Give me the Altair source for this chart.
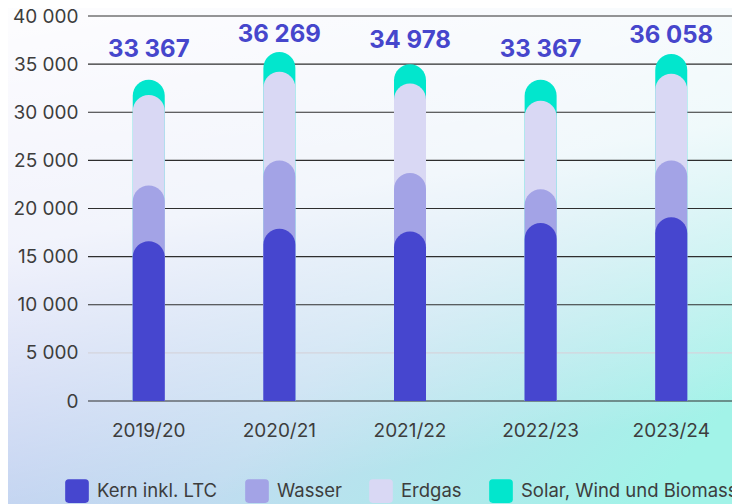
import altair as alt
import pandas as pd

periods = ["2019/20", "2020/21", "2021/22", "2022/23", "2023/24"]
series = ["Kern inkl. LTC", "Wasser", "Erdgas", "Solar, Wind und Biomasse"]
kern = [16600, 17900, 17600, 18500, 19100]
wasser = [5800, 7100, 6100, 3500, 5900]
erdgas = [9400, 9200, 9300, 9200, 9000]
totals = [33367, 36269, 34978, 33367, 36058]
solar = [t - k - w - e for t, k, w, e in zip(totals, kern, wasser, erdgas)]
colors = ["#4646cf", "#a3a3e6", "#d9d8f4", "#02e6cd"]
y_ticks = [0, 5000, 10000, 15000, 20000, 25000, 30000, 35000, 40000]

FONT = "Inter"
W, H = 644, 385

rows = []
cum = {}
for i, p in enumerate(periods):
    c1 = kern[i]
    c2 = c1 + wasser[i]
    c3 = c2 + erdgas[i]
    c4 = c3 + solar[i]
    cum[p] = [c1, c2, c3, c4]
for s_idx in [3, 2, 1, 0]:
    for p in periods:
        rows.append({"period": p, "series": series[s_idx], "top": cum[p][s_idx], "order": 3 - s_idx})
bars_df = pd.DataFrame(rows)

labels_df = pd.DataFrame({
    "period": periods,
    "total": totals,
    "label": [f"{t:,}".replace(",", " ") for t in totals],
})
grid_df = pd.DataFrame({"v": y_ticks})

x_scale = alt.Scale(domain=periods, paddingInner=0.75, paddingOuter=0.34)
y_scale = alt.Scale(domain=[0, 40000])
label_scale = alt.Scale(domain=[-36933, 40067])

y_axis = alt.Axis(title=None, orient="left", values=y_ticks, ticks=False, domain=False, grid=False,
                  labelPadding=10, labelFontSize=19, labelColor="#3d3d3d", labelFont=FONT,
                  labelExpr="replace(format(datum.value, ','), ',', ' ')", zindex=1)

bg_grad = alt.Gradient(
    gradient="linear",
    stops=[alt.GradientStop(color="#bebff0", offset=0),
           alt.GradientStop(color="#c0dcf0", offset=0.55),
           alt.GradientStop(color="#a2f3e8", offset=1)],
    x1=0, x2=1, y1=0.2, y2=0.8,
)
white_grad = alt.Gradient(
    gradient="linear",
    stops=[alt.GradientStop(color="rgba(255,255,255,0.97)", offset=0),
           alt.GradientStop(color="rgba(255,255,255,0.8)", offset=0.45),
           alt.GradientStop(color="rgba(255,255,255,0.0)", offset=1)],
    x1=0, x2=0.25, y1=0, y2=1,
)

one = pd.DataFrame({"a": [0]})
bg = alt.Chart(one).mark_rect(fill=bg_grad).encode(
    x=alt.value(-80), x2=alt.value(W), y=alt.value(-8), y2=alt.value(H + 103)
)
bg2 = alt.Chart(one).mark_rect(fill=white_grad).encode(
    x=alt.value(-80), x2=alt.value(W), y=alt.value(-8), y2=alt.value(H + 103)
)

grid = alt.Chart(grid_df).mark_rule(strokeWidth=1.2).encode(
    y=alt.Y("v:Q", scale=y_scale, axis=y_axis),
    x=alt.value(0), x2=alt.value(W),
    color=alt.condition("datum.v == 5000", alt.value("#d4d4dc"), alt.value("#2e2e2e")),
)

legend_symbol = ("M -1 -0.7 Q -1 -1 -0.7 -1 L 0.7 -1 Q 1 -1 1 -0.7 L 1 0.7 "
                 "Q 1 1 0.7 1 L -0.7 1 Q -1 1 -1 0.7 Z")

bars = alt.Chart(bars_df).mark_bar(size=32, cornerRadiusTopLeft=16, cornerRadiusTopRight=16).encode(
    x=alt.X("period:N", scale=x_scale, sort=periods,
            axis=alt.Axis(title=None, ticks=False, domain=False, labelAngle=0, labelPadding=20,
                          labelFontSize=19, labelColor="#3d3d3d", labelFont=FONT, zindex=1)),
    y=alt.Y("top:Q", scale=y_scale, stack=None, axis=y_axis),
    y2=alt.value(H),
    color=alt.Color("series:N", scale=alt.Scale(domain=series, range=colors),
                    legend=alt.Legend(title=None, orient="none", legendX=-23, legendY=463,
                                      direction="horizontal", symbolType=legend_symbol,
                                      symbolSize=560, symbolStrokeWidth=0, labelFontSize=18.5,
                                      labelFont=FONT, labelColor="#3d3d3d", labelOffset=8,
                                      labelLimit=0, columnPadding=27, zindex=1)),
    order=alt.Order("order:Q"),
)

text = alt.Chart(labels_df).mark_text(fontSize=24, fontWeight="bold", font=FONT,
                                      color="#4646cc", baseline="middle").encode(
    x=alt.X("period:N", scale=x_scale, sort=periods),
    y=alt.Y("total:Q", scale=label_scale, axis=None),
    text="label:N",
)

base = alt.layer(bg, bg2, grid, bars)
chart = alt.layer(base, text).resolve_scale(y="independent").properties(
    width=W, height=H,
    autosize=alt.AutoSizeParams(type="none"),
    padding={"left": 80, "top": 8, "right": 0, "bottom": 103},
).configure_view(stroke=None)

chart.save("out.html", embed_options={"renderer": "svg", "actions": False})
